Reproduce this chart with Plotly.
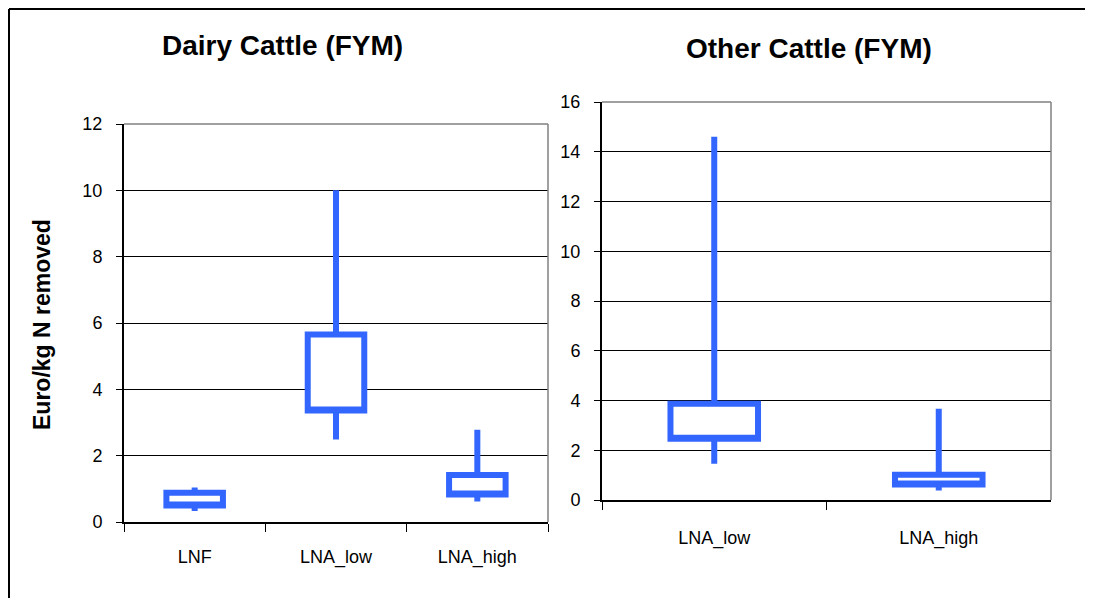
import plotly.graph_objects as go

# Dairy cattle (FYM)
dairy_cats = ["LNF", "LNA_low", "LNA_high"]
dairy_min = [0.33, 2.49, 0.62]
dairy_q1 = [0.50, 3.36, 0.83]
dairy_q3 = [0.88, 5.65, 1.42]
dairy_max = [1.04, 10.0, 2.78]

# Other cattle (FYM)
other_cats = ["LNA_low", "LNA_high"]
other_min = [1.46, 0.38]
other_q1 = [2.46, 0.62]
other_q3 = [3.87, 1.02]
other_max = [14.6, 3.67]

BLUE = "#3366FF"
FONT = "Liberation Sans, Arial, sans-serif"
OFF = 8  # page body margin
W, H = 1093 - OFF, 598 - OFF


def px(x):
    return (x - OFF) / W


def py(y):
    return 1 - (y - OFF) / H


fig = go.Figure()

fig.add_trace(go.Box(
    x=dairy_cats, q1=dairy_q1, median=dairy_q1, q3=dairy_q3,
    lowerfence=dairy_min, upperfence=dairy_max,
    width=0.40, whiskerwidth=0, fillcolor="white",
    line=dict(color=BLUE, width=6), xaxis="x", yaxis="y",
    showlegend=False, hoverinfo="skip",
))
fig.add_trace(go.Box(
    x=other_cats, q1=other_q1, median=other_q1, q3=other_q3,
    lowerfence=other_min, upperfence=other_max,
    width=0.39, whiskerwidth=0, fillcolor="white",
    line=dict(color=BLUE, width=6), xaxis="x2", yaxis="y2",
    showlegend=False, hoverinfo="skip",
))

tickfont = dict(family=FONT, size=18, color="black")
xaxis_common = dict(
    type="category", showline=True, linecolor="black", linewidth=2,
    ticks="outside", tickcolor="black", ticklen=8, tickwidth=1,
    tickson="boundaries", showgrid=False, zeroline=False,
    tickfont=tickfont, automargin=False,
)
yaxis_common = dict(
    showline=True, linecolor="black", linewidth=2,
    ticks="outside", tickcolor="black", ticklen=6, tickwidth=1,
    showgrid=True, gridcolor="black", gridwidth=1, zeroline=False,
    dtick=2, tickfont=tickfont, ticklabelstandoff=10, automargin=False,
)

fig.update_layout(
    width=W, height=H,
    paper_bgcolor="white", plot_bgcolor="white",
    margin=dict(l=0, r=0, t=0, b=0, pad=0, autoexpand=False),
    font=dict(family=FONT, color="black"),
    xaxis=dict(domain=[px(124), px(548)], categoryorder="array",
               categoryarray=dairy_cats, range=[-0.5, 2.5], anchor="y",
               ticklabelstandoff=17, **xaxis_common),
    yaxis=dict(domain=[py(522), py(124)], range=[0, 12], anchor="x",
               **yaxis_common),
    xaxis2=dict(domain=[px(602), px(1051)], categoryorder="array",
                categoryarray=other_cats, range=[-0.5, 1.5], anchor="y2",
                ticklabelstandoff=20, **xaxis_common),
    yaxis2=dict(domain=[py(500), py(102)], range=[0, 16], anchor="x2",
                **yaxis_common),
    annotations=[
        dict(text="<b>Dairy Cattle (FYM)</b>", x=px(282), y=py(45),
             xref="paper", yref="paper", showarrow=False,
             xanchor="center", yanchor="middle",
             font=dict(family=FONT, size=28)),
        dict(text="<b>Other Cattle (FYM)</b>", x=px(809), y=py(48),
             xref="paper", yref="paper", showarrow=False,
             xanchor="center", yanchor="middle",
             font=dict(family=FONT, size=28)),
        dict(text="<b>Euro/kg N removed</b>", x=px(42), y=py(325),
             xref="paper", yref="paper", showarrow=False, textangle=-90,
             xanchor="center", yanchor="middle",
             font=dict(family=FONT, size=23)),
    ],
    shapes=[
        # grey top/right plot borders
        dict(type="line", xref="x domain", yref="y domain", x0=0, x1=1, y0=1, y1=1,
             line=dict(color="#808080", width=1.5)),
        dict(type="line", xref="x domain", yref="y domain", x0=1, x1=1, y0=0, y1=1,
             line=dict(color="#808080", width=1.5)),
        dict(type="line", xref="x2 domain", yref="y2 domain", x0=0, x1=1, y0=1, y1=1,
             line=dict(color="#808080", width=1.5)),
        dict(type="line", xref="x2 domain", yref="y2 domain", x0=1, x1=1, y0=0, y1=1,
             line=dict(color="#808080", width=1.5)),
        # outer chart frame (as close to the page corner as the svg allows)
        dict(type="line", xref="paper", yref="paper", x0=px(9), x1=1, y0=py(9), y1=py(9),
             line=dict(color="black", width=2)),
        dict(type="line", xref="paper", yref="paper", x0=px(9), x1=px(9), y0=0, y1=py(9),
             line=dict(color="black", width=2)),
    ],
)

fig.write_html("out.html")
